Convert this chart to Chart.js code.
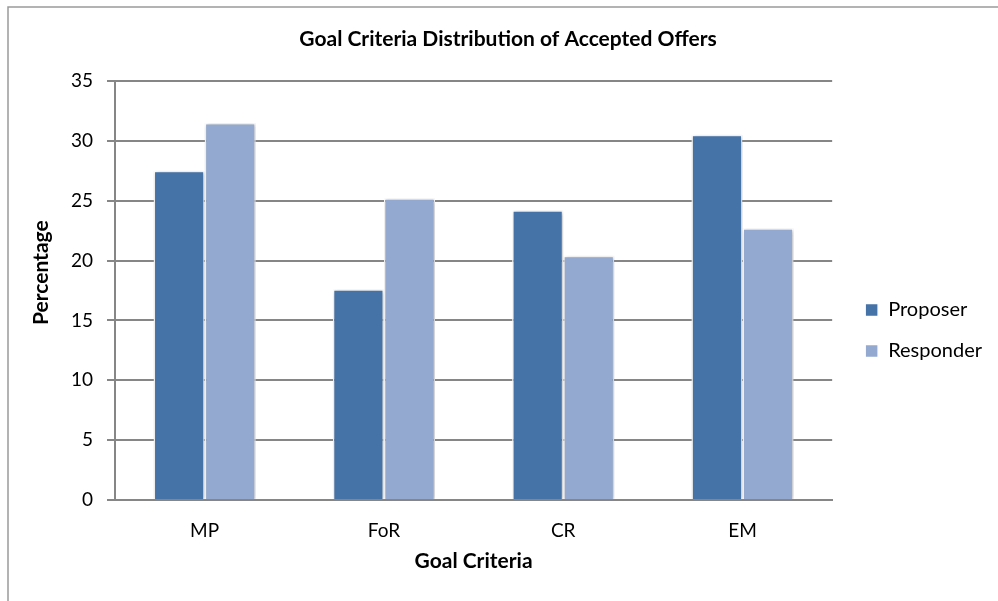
<!DOCTYPE html>
<html lang="en">
<head>
  <meta charset="UTF-8" />
  <title>Goal Criteria Distribution of Accepted Offers</title>
  <script src="https://cdn.jsdelivr.net/npm/chart.js"></script>
  <style>
    html, body { margin: 0; padding: 0; background: #ffffff; }
    #wrap { width: 998px; height: 601px; }
  </style>
</head>
<body>
  <div id="wrap"><canvas id="goalChart" width="998" height="601"></canvas></div>

  <script>
    const categories = ["MP", "FoR", "CR", "EM"];
    const proposer = [27.5, 17.6, 24.2, 30.5];
    const responder = [31.5, 25.2, 20.4, 22.7];
    const yTicks = [0, 5, 10, 15, 20, 25, 30, 35];

    const FONT = "Lato, 'Open Sans', sans-serif";

    // thin grey frame around the chart (top and left edges only are visible)
    const frame = {
      id: "frame",
      beforeDraw(chart) {
        const ctx = chart.ctx;
        ctx.save();
        ctx.strokeStyle = "#9a9a9a";
        ctx.lineWidth = 1.5;
        ctx.beginPath();
        ctx.moveTo(8, 601);
        ctx.lineTo(8, 7);
        ctx.lineTo(998, 7);
        ctx.stroke();
        ctx.restore();
      }
    };

    // soft drop shadow under the bars
    const barShadow = {
      id: "barShadow",
      beforeDatasetsDraw(chart) {
        const ctx = chart.ctx;
        ctx.save();
        ctx.shadowColor = "rgba(0,0,0,0.28)";
        ctx.shadowBlur = 4;
        ctx.shadowOffsetX = 1;
        ctx.shadowOffsetY = 1;
      },
      afterDatasetsDraw(chart) {
        chart.ctx.restore();
      }
    };

    // push the legend a little further away from the plot
    const legendNudge = {
      id: "legendNudge",
      afterLayout(chart) {
        if (chart.legend) {
          chart.legend.left += 12;
          chart.legend.right += 12;
        }
      }
    };

    new Chart(document.getElementById("goalChart"), {
      type: "bar",
      data: {
        labels: categories,
        datasets: [
          { label: "Proposer", data: proposer, backgroundColor: "#4572a7" },
          { label: "Responder", data: responder, backgroundColor: "#93a9cf" }
        ]
      },
      options: {
        responsive: false,
        animation: false,
        layout: { padding: { left: 36, right: 18, top: 7, bottom: 11 } },
        datasets: {
          bar: {
            categoryPercentage: 0.57,
            barPercentage: 1,
            borderColor: "#ffffff",
            borderWidth: 1.5
          }
        },
        plugins: {
          title: {
            display: true,
            text: "Goal Criteria Distribution of Accepted Offers",
            color: "#000000",
            font: { family: FONT, size: 21, weight: "bold" },
            padding: { top: 20, bottom: 28.8 }
          },
          legend: {
            position: "right",
            title: { display: true, text: " ", font: { size: 10 }, padding: { top: 52, bottom: 0 } },
            labels: {
              color: "#000000",
              font: { family: FONT, size: 20 },
              boxWidth: 13,
              boxHeight: 13,
              padding: 21
            }
          },
          tooltip: { enabled: false }
        },
        scales: {
          x: {
            grid: { display: false, drawTicks: false },
            border: { display: true, color: "#868686", width: 2 },
            ticks: { color: "#000000", font: { family: FONT, size: 19 }, padding: 19 },
            title: {
              display: true,
              text: "Goal Criteria",
              color: "#000000",
              font: { family: FONT, size: 21, weight: "bold" },
              padding: { top: 0, bottom: 16 }
            },
            afterFit(scale) { scale.height = 90; }
          },
          y: {
            min: 0,
            max: 35,
            afterBuildTicks(scale) { scale.ticks = yTicks.map(v => ({ value: v })); },
            grid: { color: "#868686", lineWidth: 2, tickLength: 8 },
            border: { display: true, color: "#868686", width: 2 },
            ticks: { color: "#000000", font: { family: FONT, size: 19 }, padding: 14 },
            title: {
              display: true,
              text: "       Percentage",
              color: "#000000",
              font: { family: FONT, size: 21, weight: "bold" },
              padding: { top: -7, bottom: 0 }
            },
            afterFit(scale) { scale.width = 79; }
          }
        }
      },
      plugins: [frame, barShadow, legendNudge]
    });
  </script>
</body>
</html>
